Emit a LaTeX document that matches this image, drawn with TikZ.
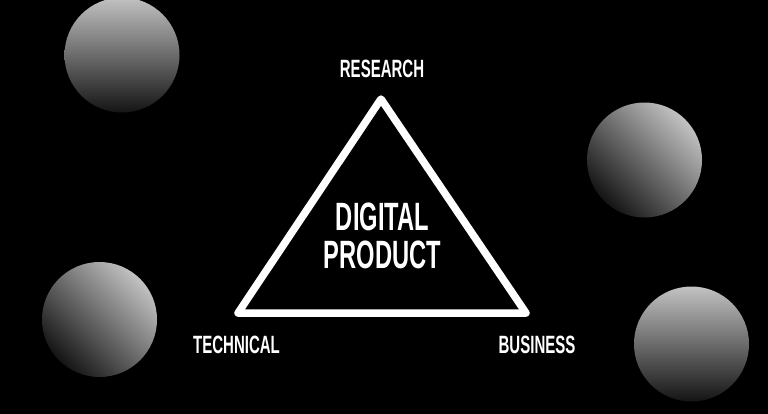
\documentclass[tikz,border=0pt]{standalone}
\usepackage{fontspec}
\newfontfamily\labelfont[FakeStretch=0.6]{Liberation Sans}

\begin{document}
\begin{tikzpicture}[x=1pt, y=-1pt,
  ball/.style={shading=axis, top color=black!24, bottom color=black!92},
  cornerlabel/.style={anchor=base, text=white, inner sep=0pt,
    font=\labelfont\bfseries\fontsize{25}{27}\selectfont},
  centrelabel/.style={anchor=base, text=white, inner sep=0pt, align=center,
    font=\labelfont\bfseries\fontsize{39.5}{38}\selectfont}]
  \useasboundingbox (0,0) rectangle (768,413);
  \fill[black] (-6,-6) rectangle (774,419);
  %
  \foreach \x/\y/\a in {122/55/0, 644.5/160/-45, 99.5/319.5/-45, 691.5/344/0} {
      \shade[ball, shading angle=\a] (\x,\y) circle (57.5);
  }
  %
  \coordinate (apex) at (381,99);
  \coordinate (left) at (238,313);
  \coordinate (right) at (526,313);
  \draw[white, line width=7.5, line join=round] (apex) -- (left) -- (right) -- cycle;
  %
  \node[cornerlabel] (research) at (382,77) {RESEARCH};
  \node[cornerlabel] (technical) at (236.5,353) {TECHNICAL};
  \node[cornerlabel] (business) at (537,353) {BUSINESS};
  \node[centrelabel] (product) at (382.5,268) {DIGITAL\\PRODUCT};
\end{tikzpicture}
\end{document}
